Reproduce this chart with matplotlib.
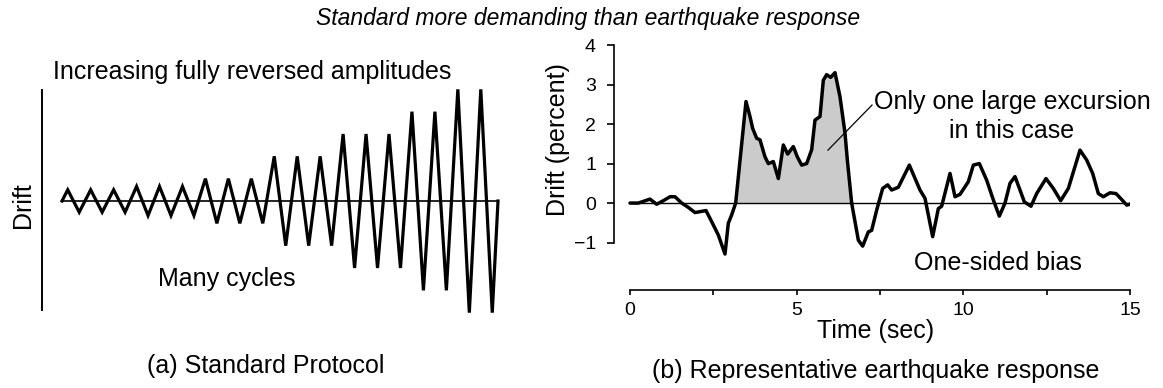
import matplotlib
matplotlib.use("Agg")
import matplotlib.pyplot as plt
import numpy as np

plt.rcParams['font.family'] = ['Liberation Sans', 'DejaVu Sans']

W, H = 1163, 388

# ---------------- data ----------------
# (a) standard protocol: amplitude of each fully reversed cycle
protocol_amplitudes = [1, 1, 1, 1.3, 1.3, 1.3, 2, 2, 2, 4, 4, 4, 6, 6, 6, 8, 8, 10, 10]

# (b) representative earthquake response
eq_time = [0.0, 0.25, 0.6, 0.8, 1.0, 1.2, 1.35, 1.55, 1.75, 1.95, 2.28, 2.45, 2.65, 2.85,
           2.95, 3.05, 3.17, 3.48, 3.6, 3.68, 3.8, 3.9, 4.05, 4.15, 4.3, 4.45, 4.6, 4.73,
           4.9, 5.02, 5.15, 5.3, 5.45, 5.55, 5.7, 5.8, 5.9, 6.02, 6.15, 6.3, 6.45, 6.52,
           6.65, 6.85, 6.98, 7.15, 7.25, 7.4, 7.58, 7.73, 7.85, 8.05, 8.38, 8.7, 8.85,
           9.08, 9.25, 9.35, 9.6, 9.75, 9.9, 10.15, 10.3, 10.48, 10.7, 10.9, 11.08, 11.25,
           11.4, 11.55, 11.7, 11.83, 12.03, 12.2, 12.48, 12.7, 12.92, 13.15, 13.5, 13.7,
           13.88, 14.05, 14.2, 14.4, 14.58, 14.75, 14.9, 15.0]
eq_drift = [0.0, 0.0, 0.1, -0.03, 0.06, 0.16, 0.16, 0.0, -0.11, -0.24, -0.19, -0.47, -0.81, -1.29,
            -0.51, -0.3, 0.0, 2.57, 2.19, 1.89, 1.64, 1.6, 1.17, 1.0, 1.05, 0.62, 1.47, 1.24,
            1.43, 1.17, 0.96, 1.0, 1.35, 2.1, 2.19, 3.11, 3.25, 3.18, 3.3, 2.69, 1.77, 1.09,
            0.0, -0.94, -1.09, -0.73, -0.69, -0.18, 0.37, 0.46, 0.33, 0.4, 0.96, 0.33, 0.12,
            -0.85, -0.14, -0.08, 0.75, 0.16, 0.22, 0.54, 0.96, 1.0, 0.58, 0.08, -0.33, 0.0,
            0.5, 0.67, 0.33, 0.03, -0.08, 0.24, 0.62, 0.37, 0.06, 0.37, 1.34, 1.09,
            0.75, 0.24, 0.16, 0.26, 0.24, 0.09, -0.05, -0.03]

x_ticks = [0, 5, 10, 15]
x_minor_ticks = [2.5, 7.5, 12.5]
y_ticks = [-1, 0, 1, 2, 3, 4]


def px_axes(l, t, r, b):
    return [l / W, 1 - b / H, (r - l) / W, (b - t) / H]


def ftext(x, y, s, **kw):
    fig.text(x / W, 1 - y / H, s, **kw)


fig = plt.figure(figsize=(W / 100, H / 100), dpi=100)

TXT = 18

# ---------------- (a) standard protocol ----------------
axa = fig.add_axes(px_axes(42, 90, 498, 310))
n = len(protocol_amplitudes)
zx = [0.0]
zy = [0.0]
for k, a in enumerate(protocol_amplitudes):
    zx += [k + 0.25, k + 0.75]
    zy += [a, -a]
zx.append(float(n))
zy.append(0.0)
axa.plot([0, n], [0, 0], color='black', lw=1.2, solid_capstyle='butt')
axa.plot(zx, zy, color='black', lw=2.3, clip_on=False, solid_joinstyle='miter')
axa.set_xlim(-0.871, n)
axa.set_ylim(-9.76, 9.94)
for s in ['top', 'right', 'bottom']:
    axa.spines[s].set_visible(False)
axa.spines['left'].set_linewidth(1.4)
axa.set_xticks([])
axa.set_yticks([])
axa.patch.set_alpha(0)

ftext(252, 79, 'Increasing fully reversed amplitudes', ha='center', va='baseline', fontsize=TXT)
ftext(227, 286, 'Many cycles', ha='center', va='baseline', fontsize=TXT)
ftext(30, 205, 'Drift', ha='center', va='baseline', rotation=90, rotation_mode='anchor', fontsize=TXT)
ftext(266, 373, '(a) Standard Protocol', ha='center', va='baseline', fontsize=TXT)

# ---------------- (b) earthquake response ----------------
axb = fig.add_axes(px_axes(614, 45, 1130, 290))
t = np.array(eq_time)
d = np.array(eq_drift)
mask = (t >= 3.0) & (t <= 6.8)
axb.fill_between(t, d, 0, where=mask & (d >= 0), interpolate=True, color='#cbcbcb', lw=0)
axb.plot([0, 15], [0, 0], color='black', lw=1.0)
axb.plot(t, d, color='black', lw=2.5, solid_joinstyle='round', solid_capstyle='round')
axb.plot([7.26, 5.94], [2.48, 1.34], color='black', lw=0.9)

axb.set_xlim(-0.48, 15)
axb.set_ylim(-2.2, 4)
axb.spines['top'].set_visible(False)
axb.spines['right'].set_visible(False)
axb.spines['left'].set_bounds(-1, 4)
axb.spines['bottom'].set_bounds(0, 15)
axb.spines['left'].set_linewidth(1.2)
axb.spines['bottom'].set_linewidth(1.2)
axb.set_xticks(x_ticks)
axb.set_xticks(x_minor_ticks, minor=True)
axb.set_yticks(y_ticks)
axb.tick_params(axis='x', which='both', direction='out', length=3.5, width=1.2, pad=5, labelsize=14)
axb.tick_params(axis='y', direction='out', length=5, width=1.2, pad=8, labelsize=14)
axb.patch.set_alpha(0)

ftext(876, 338, 'Time (sec)', ha='center', va='baseline', fontsize=TXT)
ftext(565, 140, 'Drift (percent)', ha='center', va='baseline', rotation=90, rotation_mode='anchor', fontsize=TXT)
ftext(876, 378, '(b) Representative earthquake response', ha='center', va='baseline', fontsize=TXT)
ftext(998, 270, 'One-sided bias', ha='center', va='baseline', fontsize=TXT)
ftext(1012, 109, 'Only one large excursion', ha='center', va='baseline', fontsize=TXT)
ftext(1012, 138, 'in this case', ha='center', va='baseline', fontsize=TXT)

ftext(588, 25, 'Standard more demanding than earthquake response', ha='center', va='baseline',
      fontsize=16.5, style='italic')

fig.savefig('out.png', dpi=100)
